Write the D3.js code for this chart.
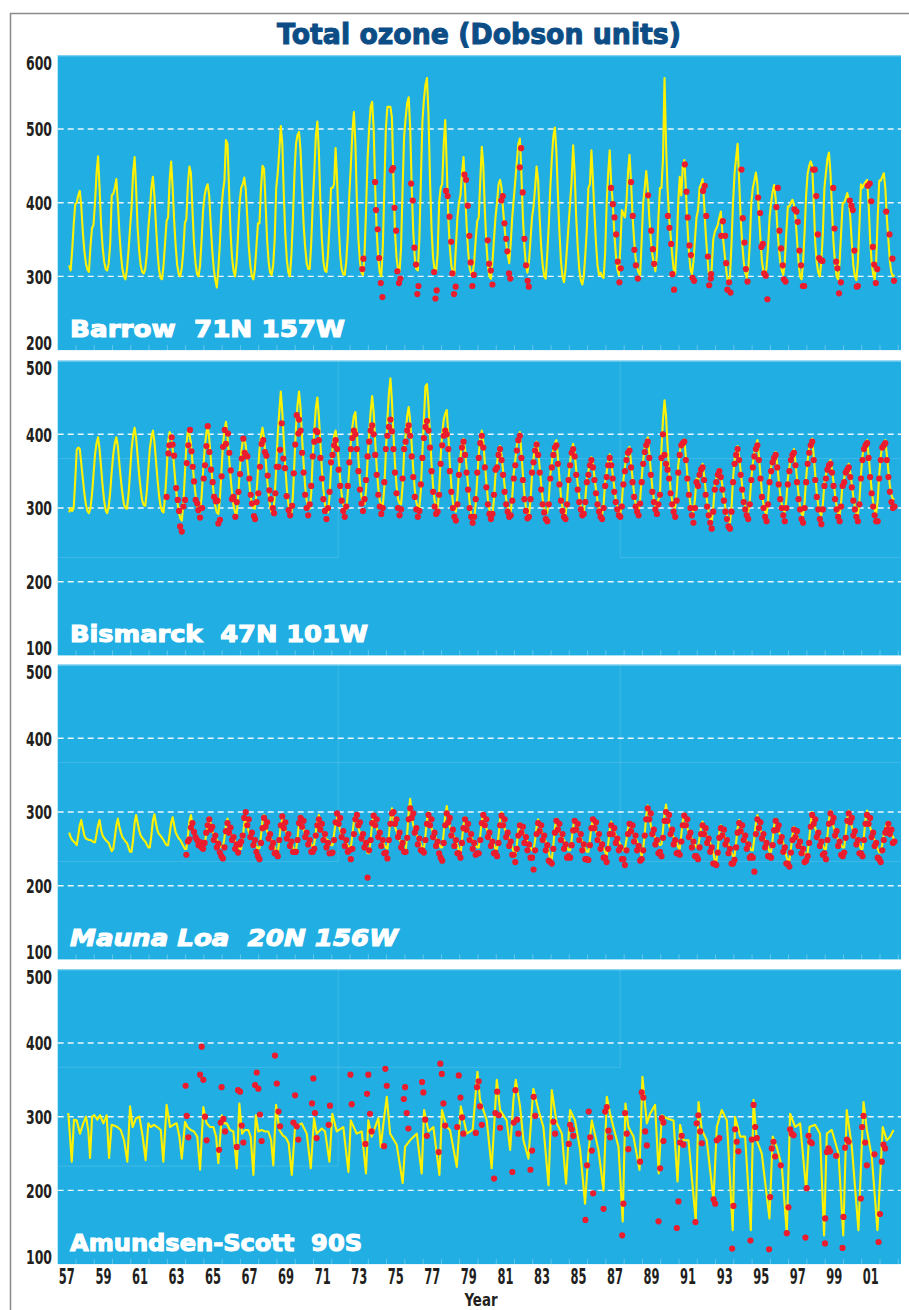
<!DOCTYPE html>
<html>
<head>
<meta charset="utf-8">
<script src="https://cdn.jsdelivr.net/npm/d3@7"></script>
<style>
  body { margin: 0; background: #fff; }
  svg { display: block; }
</style>
</head>
<body>
<script>
// ---- data ----
// x-axis labels
const labelYears = [1957,1959,1961,1963,1965,1967,1969,1971,1973,1975,1977,1979,1981,1983,1985,1987,1989,1991,1993,1995,1997,1999,2001];
const yearLabels = ['57','59','61','63','65','67','69','71','73','75','77','79','81','83','85','87','89','91','93','95','97','99','01'];

const ticksBarrow = [600, 500, 400, 300, 200];
const ticksOther = [500, 400, 300, 200, 100];

// Barrow, monthly means from Jan 1957
const barrowLine = [
  null,null,null,null,null,null,null,315,308,335,370,398,
  400,410,416,395,360,335,318,309,306,340,365,370,
  400,440,463,420,370,340,320,310,308,318,345,410,
  412,420,432,400,360,330,310,300,296,310,335,365,
  393,440,462,420,365,335,315,306,304,310,330,365,
  390,420,435,410,370,335,310,298,296,315,345,375,
  380,430,456,420,375,340,315,303,300,312,335,372,
  378,425,449,440,390,345,318,303,300,315,350,390,
  410,420,425,410,370,335,310,295,285,310,345,390,
  415,430,485,480,420,360,325,307,300,320,360,400,
  420,425,434,418,380,340,315,300,296,310,340,372,
  372,420,450,446,400,350,320,305,302,315,350,420,
  440,470,504,480,410,355,322,305,300,330,380,440,
  480,492,496,470,420,370,340,318,310,310,345,400,
  440,490,510,470,400,350,320,308,306,330,370,420,
  420,425,474,430,370,330,310,303,302,320,355,410,
  450,495,523,480,400,350,320,305,302,330,390,460,
  500,530,537,500,420,360,325,305,300,340,420,500,
  530,530,530,515,430,360,325,310,306,340,420,490,
  515,535,543,500,420,360,325,310,308,350,430,510,
  540,560,569,520,430,365,325,310,306,330,400,420,
  425,480,512,450,380,340,315,305,302,340,380,400,
  410,440,462,420,370,335,312,304,302,320,350,375,
  380,430,476,450,390,345,315,300,297,320,350,380,
  400,425,431,420,390,365,345,330,318,345,380,405,
  430,455,480,487,440,380,340,315,305,320,350,380,
  395,420,449,430,380,340,315,300,297,330,370,420,
  460,490,502,470,410,360,320,300,292,310,340,370,
  400,430,478,440,380,340,310,295,289,300,330,365,
  420,425,471,430,385,345,315,302,305,300,298,330,
  400,440,471,425,400,360,330,310,302,340,390,385,
  380,400,440,465,430,382,350,325,312,305,302,349,
  400,420,443,420,380,350,330,318,307,330,380,420,
  420,460,569,480,419,380,356,330,310,303,340,400,
  435,410,450,458,420,370,335,310,303,320,350,380,
  390,420,425,432,400,360,330,305,295,310,350,360,
  365,370,380,388,360,340,320,300,290,300,345,400,
  440,460,480,430,380,345,320,305,298,310,345,400,
  420,430,441,425,385,350,320,306,300,312,340,380,
  400,415,424,405,370,340,320,308,302,320,360,395,
  395,400,404,398,380,350,320,300,296,320,360,410,
  440,450,456,450,400,345,318,305,300,320,360,420,
  440,460,468,440,390,345,318,300,296,320,360,400,
  400,406,413,405,380,345,315,300,295,320,370,425,
  420,425,428,431,400,350,320,303,296,320,380,430,
  430,435,440,420,380,350,320,305,300,302
];

const barrowDots = [
  [1973.73,324],[1973.67,310],[1974.37,428],[1974.42,390],[1974.51,364],[1974.59,325],[1974.68,291],[1974.77,272],
  [1975.28,444],[1975.35,447],[1975.43,393],[1975.52,362],[1975.59,307],[1975.68,291],[1975.75,297],
  [1976.34,426],[1976.43,403],[1976.52,339],[1976.61,316],[1976.74,287],[1976.68,276],
  [1977.60,306],[1977.74,281],[1977.67,270],
  [1978.25,416],[1978.34,409],[1978.44,381],[1978.53,347],[1978.60,304],[1978.78,286],[1978.69,276],
  [1979.26,438],[1979.35,431],[1979.44,396],[1979.53,355],[1979.60,319],[1979.77,302],[1979.69,287],
  [1980.53,349],[1980.61,317],[1980.70,308],[1980.79,289],
  [1981.28,403],[1981.36,409],[1981.45,372],[1981.54,351],[1981.61,334],[1981.70,304],[1981.77,297],
  [1982.29,448],[1982.36,474],[1982.45,414],[1982.54,351],[1982.63,315],[1982.72,294],[1982.78,286],
  [1987.28,420],[1987.38,398],[1987.47,380],[1987.56,357],[1987.65,320],[1987.81,311],[1987.74,292],
  [1988.38,428],[1988.47,382],[1988.56,336],[1988.64,315],[1988.75,297],
  [1989.31,410],[1989.48,362],[1989.57,337],[1989.64,317],
  [1990.39,382],[1990.48,366],[1990.57,344],[1990.64,303],[1990.73,282],
  [1991.32,452],[1991.41,415],[1991.48,380],[1991.57,342],[1991.65,329],[1991.74,298],[1991.83,294],
  [1992.32,416],[1992.41,423],[1992.49,382],[1992.58,327],[1992.76,303],[1992.74,297],[1992.65,288],
  [1993.31,355],[1993.53,355],[1993.40,375],[1993.58,318],[1993.74,292],[1993.65,282],[1993.82,278],
  [1994.42,445],[1994.49,379],[1994.58,346],[1994.66,310],[1994.75,293],
  [1995.33,407],[1995.44,386],[1995.51,340],[1995.59,344],[1995.66,304],[1995.75,301],[1995.84,269],
  [1996.41,420],[1996.33,394],[1996.50,362],[1996.59,338],[1996.68,315],[1996.74,296],[1996.83,293],
  [1997.32,391],[1997.43,388],[1997.50,374],[1997.59,335],[1997.68,315],[1997.78,287],[1997.85,287],
  [1998.34,445],[1998.43,445],[1998.51,409],[1998.60,357],[1998.67,325],[1998.76,322],[1998.85,321],
  [1999.44,420],[1999.51,365],[1999.60,320],[1999.67,311],[1999.76,277],[1999.86,292],
  [2000.35,403],[2000.44,396],[2000.51,390],[2000.60,335],[2000.79,287],[2000.73,286],
  [2001.33,423],[2001.44,426],[2001.52,402],[2001.61,340],[2001.68,316],[2001.85,310],[2001.77,291],
  [2002.34,388],[2002.52,357],[2002.68,324],[2002.77,294]
];

// Bismarck, monthly means from Jan 1957
const bismarckLine = [
  null,null,null,null,null,null,null,294,300,296,300,337,
  379,382,380,360,340,320,305,296,293,300,318,345,
  372,388,396,380,355,330,310,297,293,302,322,350,
  373,388,396,384,360,338,320,305,300,299,318,348,
  380,398,409,395,370,345,325,310,304,303,322,352,
  380,396,405,390,365,340,318,303,296,294,315,348,
  390,403,398,380,355,330,310,295,286,283,305,345,
  385,405,400,388,362,338,318,302,295,294,315,350,
  380,400,412,395,368,340,318,302,294,292,312,348,
  385,405,417,398,370,342,320,303,294,292,315,350,
  375,390,396,385,362,340,320,306,300,299,318,350,
  378,398,409,395,368,340,318,302,294,292,315,355,
  400,430,458,430,390,355,325,305,295,292,318,365,
  410,440,458,435,395,360,330,310,301,299,320,370,
  405,435,450,425,388,352,325,305,296,294,315,355,
  380,398,405,392,365,340,318,305,300,298,320,355,
  390,410,425,430,400,365,335,315,307,305,325,365,
  400,430,452,430,390,355,328,310,304,303,328,375,
  420,455,476,445,400,360,330,312,306,305,330,375,
  400,425,437,418,385,352,325,308,301,300,325,375,
  420,465,468,440,400,360,330,310,302,300,322,370,
  400,420,428,433,400,360,330,308,298,295,315,350,
  370,388,394,380,355,330,308,292,286,285,305,340,
  372,395,405,390,362,335,312,298,291,290,312,345,
  360,378,384,372,350,330,312,300,296,295,315,348,
  365,385,395,403,375,345,318,300,292,290,310,345,
  368,385,390,378,355,332,312,300,294,293,312,345,
  362,380,388,392,368,340,315,300,292,290,310,342,
  362,380,387,375,352,332,315,302,296,295,312,340,
  350,362,369,360,342,325,310,298,292,290,305,335,
  348,365,373,362,345,328,312,300,294,292,308,338,
  355,372,380,383,362,340,320,306,299,297,312,340,
  365,382,390,396,375,350,328,312,303,300,312,315,
  380,420,446,425,385,350,325,310,302,300,320,358,
  375,388,390,393,370,345,322,305,297,295,312,340,
  335,350,355,360,345,325,308,295,285,280,300,330,
  340,350,353,345,330,315,300,290,283,280,300,340,
  365,378,384,370,350,330,312,302,296,295,310,340,
  360,375,385,392,370,345,320,305,295,292,310,340,
  355,368,372,376,360,338,318,305,297,295,310,340,
  355,370,375,380,362,340,318,302,292,290,308,340,
  365,382,390,394,370,345,320,303,293,290,305,335,
  345,358,362,365,352,335,318,302,293,290,308,335,
  340,352,356,360,348,332,315,302,293,290,310,345,
  370,385,388,392,372,348,325,308,297,293,310,345,
  370,385,388,392,372,350,330,318,312,312
];

const bismarckDotsEarly = [
  [1962.96,315],[1963.06,374],[1963.11,385],[1963.24,396],[1963.29,386],[1963.37,371],[1963.48,327],[1963.57,311],
  [1963.64,296],[1963.70,275],[1963.79,268],[1963.88,302],[1963.97,311],[1964.06,361],[1964.15,385],[1964.24,406],
  [1964.32,377],[1964.39,356],[1964.46,336],[1964.55,311],[1964.64,306],[1964.70,297],[1964.79,287],[1964.90,300],
  [1964.99,340],[1965.06,358],[1965.14,384],[1965.21,411],[1965.30,376],[1965.39,352],[1965.48,335],[1965.56,315],
  [1965.66,309],[1965.74,310],[1965.79,279],[1965.88,284],[1965.97,343],[1966.05,383],[1966.14,406],[1966.21,387],
  [1966.32,401],[1966.39,375],[1966.47,351],[1966.54,312],[1966.61,315],[1966.72,288],[1966.80,308],[1966.89,322],
  [1966.98,346],[1967.07,367],[1967.16,394],[1967.23,375],[1967.31,371],[1967.38,370],[1967.49,340],[1967.56,318],
  [1967.63,306],[1967.74,289],[1967.80,285],[1967.89,308],[1967.98,320],[1968.07,356],[1968.16,387],[1968.25,392],
  [1968.34,376],[1968.42,371],[1968.49,344],[1968.58,324],[1968.66,312],[1968.77,300],[1968.84,293],[1968.91,320],
  [1968.99,356],[1969.08,356],[1969.17,379],[1969.26,415],[1969.35,367],[1969.44,354],[1969.53,316],[1969.64,297],
  [1969.72,290],[1969.83,303],[1969.92,347],[1970.00,386],[1970.08,426],[1970.17,401]
];

// Bismarck second series, monthly from Jan 1970
const bismarckDots = [
  null,null,420,405,375,348,318,300,290,305,330,370,
  390,405,403,392,368,340,312,296,285,300,322,362,
  372,385,392,380,352,330,310,296,288,302,330,362,
  380,395,405,400,380,350,325,306,296,312,338,370,
  390,405,412,400,372,345,318,302,292,300,335,380,
  398,410,420,404,380,348,320,300,290,298,340,380,
  390,405,412,398,370,342,315,298,288,296,332,368,
  395,410,418,405,382,350,322,302,292,295,318,360,
  385,398,405,400,380,350,322,300,288,283,305,345,
  365,382,390,372,348,325,300,288,280,288,312,348,
  368,388,398,382,355,328,305,292,285,292,318,352,
  355,372,380,365,345,322,305,295,288,290,310,340,
  358,378,392,398,368,338,312,296,286,288,312,348,
  362,378,386,372,348,325,305,294,285,282,305,340,
  355,372,382,385,360,332,310,296,288,285,305,338,
  358,375,380,370,345,325,308,298,290,292,308,335,
  345,358,365,355,338,320,305,295,288,285,300,330,
  342,358,368,358,340,322,308,298,290,288,302,332,
  350,365,375,378,355,335,315,302,295,290,306,335,
  360,376,385,390,368,345,322,308,298,292,305,318,
  368,400,372,360,352,340,320,305,295,288,310,348,
  372,385,388,390,365,340,318,300,290,280,300,335,
  330,345,352,355,338,318,302,290,280,272,295,325,
  335,345,350,342,325,310,295,285,275,272,295,335,
  360,372,380,365,345,325,308,298,290,285,305,338,
  355,370,380,385,365,340,315,300,288,282,305,335,
  350,362,368,372,355,332,312,300,290,282,300,332,
  350,365,372,375,358,335,312,298,285,280,300,335,
  360,375,385,390,365,338,315,298,285,278,298,330,
  340,352,358,360,348,330,312,298,288,282,302,330,
  335,348,352,355,342,328,310,298,288,282,305,340,
  365,380,385,388,368,342,320,302,290,282,282,340,
  365,382,385,388,365,342,322,308,300,302
];

// Mauna Loa, monthly means from Jan 1957
const maunaLine = [
  null,null,null,null,null,null,null,272,266,262,260,258,
  255,268,282,289,278,268,264,263,262,262,261,259,
  259,270,282,289,276,268,265,262,260,258,252,247,
  250,265,282,291,280,272,266,263,260,258,252,246,
  246,262,285,296,285,275,268,265,262,260,256,252,
  252,268,288,297,285,275,270,268,265,262,258,255,
  255,270,285,293,282,272,268,264,262,258,254,250,
  250,268,288,296,282,272,268,265,262,260,258,255,
  256,270,285,293,284,274,270,266,262,260,255,252,
  252,265,282,291,280,272,268,264,260,258,254,250,
  250,264,284,292,282,273,268,264,262,258,253,250,
  251,268,288,296,284,274,268,265,262,258,252,246,
  243,262,282,291,282,275,270,266,262,258,252,248,
  248,265,285,295,284,276,270,266,262,260,256,252,
  257,272,288,296,285,275,270,266,263,262,258,255,
  255,270,285,293,284,275,270,266,262,258,255,252,
  252,268,288,298,288,278,272,268,264,260,252,244,
  244,262,285,298,286,278,272,268,264,260,255,252,
  250,268,290,305,290,280,274,268,262,258,252,246,
  246,270,300,318,295,282,275,270,265,262,256,250,
  250,268,290,300,288,278,272,268,264,260,256,252,
  252,272,295,308,292,280,274,270,266,262,255,248,
  241,262,283,293,284,276,270,266,262,258,255,252,
  252,268,288,298,288,278,272,268,264,260,255,250,
  250,268,290,300,288,278,272,268,264,258,252,246,
  239,255,275,285,280,274,268,264,260,256,252,248,
  248,262,280,290,284,276,270,265,260,255,245,236,
  236,255,278,291,282,274,268,265,262,258,252,248,
  248,262,280,290,285,276,270,265,260,255,250,246,
  246,262,280,291,282,274,268,264,260,256,250,246,
  240,256,275,287,280,274,268,264,260,256,250,248,
  250,262,278,286,280,274,268,264,260,256,248,240,
  250,270,295,309,295,282,274,270,265,262,258,255,
  256,275,298,310,295,282,275,270,266,262,258,252,
  250,268,288,298,288,278,272,268,264,260,256,252,
  252,265,280,287,280,272,266,262,258,254,245,234,
  232,250,272,282,276,270,264,260,256,250,245,240,
  240,258,278,289,282,274,268,264,260,256,252,248,
  248,265,285,296,286,276,270,266,262,258,252,246,
  246,262,282,291,282,274,268,264,258,250,240,234,
  234,250,268,280,275,268,262,258,254,250,244,240,
  245,262,285,300,288,278,272,266,262,258,254,250,
  250,268,290,302,290,280,272,268,263,260,255,252,
  252,270,292,302,290,280,273,268,264,260,255,250,
  250,268,290,302,290,280,272,266,262,256,250,245,
  245,256,270,278,285,287,280,272,266,262
];

// Mauna Loa second series, monthly from Jan 1964
const maunaDots = [
  242,260,263,279,285,273,266,262,255,259,252,250,
  258,272,282,290,276,280,262,268,252,257,245,240,
  237,252,274,285,272,279,262,266,250,256,245,256,
  260,268,292,300,282,290,266,272,255,262,246,240,
  236,258,278,292,280,286,264,270,252,258,244,245,
  240,262,282,294,278,286,264,270,254,260,246,246,
  246,262,285,292,280,288,266,272,256,262,246,246,
  250,268,282,290,276,284,262,270,252,258,244,244,
  245,262,286,298,284,292,266,274,254,262,246,248,
  236,250,270,290,296,282,286,264,270,252,258,211,
  248,262,285,295,282,290,266,272,254,262,244,245,
  237,262,284,298,300,284,290,266,272,252,258,246,
  246,265,290,305,292,298,272,278,256,264,248,248,
  245,262,284,296,282,290,266,272,254,260,244,238,
  234,258,282,298,286,292,268,276,254,262,244,244,
  238,258,278,290,276,284,262,270,250,258,242,244,
  244,262,285,296,282,290,266,272,254,260,244,245,
  240,258,282,295,282,290,266,272,254,260,242,242,
  232,250,268,282,272,280,258,266,248,256,238,238,
  222,248,270,285,274,282,262,268,248,255,234,232,
  230,250,272,288,276,284,262,270,250,256,238,240,
  238,255,275,288,276,284,262,270,248,256,236,236,
  235,255,278,290,278,286,262,270,250,256,238,238,
  232,250,270,282,270,278,258,264,248,252,236,236,
  228,248,270,284,274,282,260,268,248,254,234,236,
  248,268,290,305,290,298,270,276,256,262,244,246,
  240,265,288,300,288,296,270,276,256,262,244,245,
  242,260,282,295,282,290,266,272,252,260,240,240,
  236,252,270,282,270,278,258,264,246,252,230,230,
  228,245,265,278,268,276,256,262,244,250,230,230,
  235,252,272,285,274,282,262,268,250,256,238,240,
  238,219,270,290,278,286,264,270,252,258,240,240,
  238,255,275,288,276,282,260,266,246,252,230,230,
  226,245,262,276,266,274,254,260,244,250,232,234,
  240,258,280,296,284,290,266,272,254,260,242,244,
  236,262,284,298,286,292,268,274,254,260,242,240,
  245,265,288,298,286,292,268,274,256,262,244,244,
  240,262,284,296,284,292,266,272,254,258,238,236,
  232,248,262,272,276,284,270,276,258,260
];

// Amundsen-Scott, irregular readings [year, DU]
const amundsenLine = [
  [1957.58,305],[1957.77,239],[1957.89,296],[1958.04,295],[1958.22,277],[1958.40,291],[1958.55,300],[1958.68,280],
  [1958.77,244],[1958.88,300],[1959.00,302],[1959.17,296],[1959.32,302],[1959.50,291],[1959.68,302],[1959.81,244],
  [1959.95,289],[1960.08,288],[1960.26,286],[1960.45,282],[1960.63,268],[1960.81,239],[1960.96,314],[1961.10,286],
  [1961.29,298],[1961.47,300],[1961.65,273],[1961.81,241],[1961.96,291],[1962.09,286],[1962.27,289],[1962.45,286],
  [1962.64,282],[1962.78,239],[1962.96,316],[1963.15,286],[1963.33,289],[1963.51,291],[1963.66,273],[1963.79,243],
  [1963.97,293],[1964.10,286],[1964.28,282],[1964.46,280],[1964.64,273],[1964.79,228],[1964.97,313],[1965.15,291],
  [1965.34,286],[1965.52,286],[1965.67,273],[1965.79,237],[1965.98,302],[1966.10,291],[1966.25,291],[1966.43,282],
  [1966.61,280],[1966.80,230],[1966.94,318],[1967.09,277],[1967.25,282],[1967.43,282],[1967.56,273],[1967.71,221],
  [1967.84,302],[1967.98,280],[1968.16,282],[1968.35,280],[1968.53,280],[1968.68,268],[1968.80,234],[1968.95,316],
  [1969.13,282],[1969.31,275],[1969.50,271],[1969.64,264],[1969.81,221],[1969.99,286],[1970.35,291],[1970.63,277],
  [1970.85,230],[1971.03,298],[1971.17,277],[1971.45,284],[1971.63,280],[1971.87,239],[1972.03,304],[1972.27,280],
  [1972.63,286],[1972.91,225],[1973.04,295],[1973.36,277],[1973.64,280],[1973.87,223],[1974.00,295],[1974.18,273],
  [1974.55,298],[1974.68,259],[1974.86,298],[1975.01,327],[1975.19,277],[1975.55,262],[1975.88,210],[1976.01,259],
  [1976.28,268],[1976.65,277],[1976.92,223],[1977.05,309],[1977.29,280],[1977.56,286],[1977.89,221],[1978.03,309],
  [1978.29,286],[1978.47,282],[1978.84,232],[1979.06,314],[1979.39,277],[1979.71,282],[1979.97,361],[1980.11,323],
  [1980.48,295],[1980.75,230],[1981.03,350],[1981.21,309],[1981.57,295],[1981.76,255],[1981.94,323],[1982.07,350],
  [1982.30,314],[1982.49,268],[1982.76,243],[1983.03,338],[1983.31,309],[1983.58,286],[1983.86,207],[1984.04,336],
  [1984.31,291],[1984.59,277],[1984.82,209],[1985.04,309],[1985.31,295],[1985.59,255],[1985.86,182],[1986.04,250],
  [1986.23,295],[1986.59,255],[1986.87,200],[1987.05,327],[1987.23,304],[1987.41,286],[1987.69,259],[1987.92,158],
  [1988.07,318],[1988.23,286],[1988.51,273],[1988.84,228],[1989.00,354],[1989.24,291],[1989.42,304],[1989.69,316],
  [1989.89,223],[1990.06,302],[1990.33,298],[1990.70,295],[1990.92,212],[1991.06,289],[1991.24,268],[1991.52,268],
  [1991.92,158],[1992.07,320],[1992.25,282],[1992.52,268],[1992.89,187],[1993.07,286],[1993.34,309],[1993.62,295],
  [1993.94,146],[1994.07,300],[1994.35,273],[1994.62,273],[1994.93,146],[1995.08,323],[1995.26,268],[1995.53,250],
  [1995.95,162],[1996.13,273],[1996.35,259],[1996.63,232],[1996.90,142],[1997.08,304],[1997.36,286],[1997.63,291],
  [1997.96,200],[1998.14,286],[1998.45,289],[1998.72,277],[1998.94,139],[1999.09,277],[1999.36,282],[1999.73,250],
  [1999.99,139],[2000.18,309],[2000.46,259],[2000.82,146],[2001.10,320],[2001.28,282],[2001.55,246],[2001.86,146],
  [2002.15,286],[2002.37,268],[2002.56,273],[2002.74,282]
];

const amundsenDots = [
  [1964.00,342],[1964.06,301],[1964.15,272],[1964.79,357],[1964.88,395],[1964.97,350],[1965.06,300],[1965.15,268],
  [1965.83,255],[1965.92,292],[1965.97,340],[1966.07,297],[1966.16,280],[1966.80,259],[1966.87,336],[1966.98,334],
  [1967.07,288],[1967.16,265],[1967.80,343],[1967.89,360],[1967.98,338],[1968.07,303],[1968.16,267],[1968.89,383],
  [1968.99,345],[1969.08,307],[1969.17,287],[1969.90,292],[1969.99,329],[1970.08,287],[1970.17,269],
  [1970.92,318],[1970.99,352],[1971.08,305],[1971.17,271],[1971.83,289],[1971.90,315],[1973.02,357],[1973.09,317],
  [1973.84,263],[1973.93,331],[1974.00,357],[1974.09,304],[1974.18,280],[1974.86,260],[1974.93,365],[1975.01,342],
  [1975.94,324],[1976.01,340],[1976.10,305],[1976.19,284],[1976.94,347],[1977.01,333],[1977.11,296],[1977.20,274],
  [1977.85,252],[1977.94,372],[1978.02,358],[1978.11,318],[1978.20,288],[1978.86,286],[1978.95,356],[1979.04,326],
  [1979.13,299],[1979.20,277],[1979.88,278],[1979.95,340],[1980.04,348],[1980.11,314],[1980.21,289],[1980.88,216],
  [1980.95,305],[1981.05,334],[1981.14,302],[1981.21,285],[1981.88,225],[1981.96,292],[1982.05,336],[1982.14,296],
  [1982.21,277],[1982.87,228],[1982.96,254],[1983.05,327],[1983.13,301],[1984.13,293],[1984.22,277],[1984.97,263],
  [1985.04,289],[1985.13,283],[1985.22,274],[1985.88,160],[1985.97,234],[1986.06,307],[1986.14,272],[1986.23,254],
  [1986.30,196],[1986.87,175],[1986.96,307],[1987.05,313],[1987.14,281],[1987.23,272],[1987.89,139],[1987.96,182],
  [1988.05,305],[1988.14,277],[1988.23,256],[1988.87,239],[1988.96,333],[1989.05,326],[1989.15,280],[1989.24,261],
  [1989.88,158],[1989.97,230],[1990.06,298],[1990.15,292],[1990.15,267],[1990.88,149],[1990.97,185],[1991.06,265],
  [1991.15,274],[1991.24,262],[1991.90,157],[1991.97,291],[1992.06,302],[1992.16,280],[1992.25,264],[1992.89,188],
  [1992.98,182],[1993.07,268],[1993.21,271],[1993.91,121],[1993.98,179],[1994.07,283],[1994.16,266],[1994.25,253],
  [1994.91,132],[1994.99,269],[1995.08,316],[1995.17,286],[1995.26,271],[1995.93,120],[1995.99,191],[1996.08,257],
  [1996.17,266],[1996.26,246],[1996.57,234],[1996.90,142],[1996.99,177],[1997.08,283],[1997.17,277],[1997.27,275],
  [1997.92,136],[1997.99,203],[1998.09,274],[1998.18,266],[1998.27,264],[1998.99,128],[1999.00,162],[1999.09,252],
  [1999.18,257],[1999.27,253],[1999.60,247],[1999.95,122],[2000.00,164],[2000.09,258],[2000.19,269],[2000.28,266],
  [2000.95,189],[2001.02,286],[2001.10,301],[2001.19,265],[2001.28,234],[2001.70,249],[2001.92,130],[2002.00,168],
  [2002.10,239],[2002.19,262],[2002.28,257]
];

// ---- helpers ----
function monthly(startYear, arr) {
  return arr.map((v, i) => ({ t: startYear + (i + 0.5) / 12, v: v })).filter(d => d.v != null);
}
function pairs(arr) {
  return arr.map(d => ({ t: d[0], v: d[1] }));
}

const stations = [
  { label: 'Barrow  71N 157W', line: monthly(1957, barrowLine), dots: pairs(barrowDots),
    domain: [200, 600], ticks: ticksBarrow, labelWidth: 275, italic: false, seams: null },
  { label: 'Bismarck  47N 101W', line: monthly(1957, bismarckLine),
    dots: pairs(bismarckDotsEarly).concat(monthly(1970, bismarckDots)),
    domain: [100, 500], ticks: ticksOther, labelWidth: 298, italic: false, seams: 'a' },
  { label: 'Mauna Loa  20N 156W', line: monthly(1957, maunaLine), dots: monthly(1964, maunaDots),
    domain: [100, 500], ticks: ticksOther, labelWidth: 328, italic: true, seams: 'a' },
  { label: 'Amundsen-Scott  90S', line: pairs(amundsenLine), dots: pairs(amundsenDots),
    domain: [100, 500], ticks: ticksOther, labelWidth: 292, italic: false, seams: 'b' }
];

// ---- layout ----
const W = 909, H = 1310;
const left = 57.7, right = 901;
const tops = [55.3, 360.6, 664.6, 969.3];
const ph = 294.8;
const panelColor = '#21aee3';
const seamYears = [1972.35, 1987.78];
const seamValues = [367, 233];
const axisFont = '"DejaVu Sans Condensed", "DejaVu Sans", sans-serif';

const x = d3.scaleLinear().domain([1957, 2003.15]).range([left, right]);

const svg = d3.select('body').append('svg')
  .attr('width', W).attr('height', H)
  .attr('viewBox', `0 0 ${W} ${H}`);

// outer frame (left & top rules)
svg.append('line').attr('x1', 10.5).attr('x2', 10.5).attr('y1', 13).attr('y2', H)
  .attr('stroke', '#8a8a8a').attr('stroke-width', 1.5);
svg.append('line').attr('x1', 10).attr('x2', W).attr('y1', 13.5).attr('y2', 13.5)
  .attr('stroke', '#8a8a8a').attr('stroke-width', 1.5);

svg.append('text')
  .attr('x', 479).attr('y', 44)
  .attr('text-anchor', 'middle')
  .attr('font-family', '"DejaVu Sans", sans-serif')
  .attr('font-weight', 'bold')
  .attr('font-size', 29)
  .attr('fill', '#0c4d86')
  .attr('stroke', '#0c4d86').attr('stroke-width', 1.1)
  .attr('textLength', 404).attr('lengthAdjust', 'spacingAndGlyphs')
  .text('Total ozone (Dobson units)');

stations.forEach((s, i) => {
  const top = tops[i], bottom = top + ph;
  const y = d3.scaleLinear().domain(s.domain).range([bottom, top]);
  const g = svg.append('g');

  g.append('rect')
    .attr('x', left).attr('y', top)
    .attr('width', right - left).attr('height', ph)
    .attr('fill', panelColor);
  g.append('line').attr('x1', left).attr('x2', right).attr('y1', top + 0.5).attr('y2', top + 0.5)
    .attr('stroke', '#8fd6f2').attr('stroke-width', 1);

  // faint seams in the scanned panels
  const seam = (x1, x2, y1, y2) => g.append('line')
    .attr('x1', x(x1)).attr('x2', x(x2)).attr('y1', y(y1)).attr('y2', y(y2))
    .attr('stroke', '#ffffff').attr('stroke-opacity', 0.14).attr('stroke-width', 1);
  if (s.seams === 'a') {
    seam(1957, 2003.15, seamValues[0], seamValues[0]);
    seam(1957, seamYears[0], seamValues[1], seamValues[1]);
    seam(seamYears[1], 2003.15, seamValues[1], seamValues[1]);
    seam(seamYears[0], seamYears[0], 500, seamValues[1]);
    seam(seamYears[1], seamYears[1], 500, seamValues[1]);
  } else if (s.seams === 'b') {
    seam(1957, seamYears[1], seamValues[0], seamValues[0]);
    seam(1957, seamYears[0], seamValues[1], seamValues[1]);
    seam(seamYears[0], seamYears[0], 500, seamValues[1]);
    seam(seamYears[1], seamYears[1], 500, seamValues[0]);
  }

  // year ticks along the bottom edge
  g.selectAll('.yt').data(d3.range(1958, 2004)).enter().append('line')
    .attr('x1', d => x(d)).attr('x2', d => x(d))
    .attr('y1', bottom - 5).attr('y2', bottom)
    .attr('stroke', '#ffffff').attr('stroke-opacity', 0.3);

  // dashed grid
  g.selectAll('.grid').data(s.ticks.slice(1, -1)).enter().append('line')
    .attr('x1', left).attr('x2', right)
    .attr('y1', d => y(d)).attr('y2', d => y(d))
    .attr('stroke', '#ffffff').attr('stroke-opacity', 0.9)
    .attr('stroke-width', 1.4).attr('stroke-dasharray', '6,4');

  // y labels
  g.selectAll('.yl').data(s.ticks).enter().append('text')
    .attr('x', 52).attr('y', d => y(d))
    .attr('dy', (d, j) => j === 0 ? 14.5 : (j === s.ticks.length - 1 ? 0 : 7.3))
    .attr('text-anchor', 'end')
    .attr('font-family', axisFont)
    .attr('font-weight', 'bold')
    .attr('font-size', 20)
    .attr('fill', '#231f20')
    .attr('textLength', 26).attr('lengthAdjust', 'spacingAndGlyphs')
    .text(d => d);

  const clipId = 'clip' + i;
  svg.append('clipPath').attr('id', clipId).append('rect')
    .attr('x', left).attr('y', top).attr('width', right - left).attr('height', ph);

  const plot = g.append('g').attr('clip-path', `url(#${clipId})`);

  plot.append('path')
    .datum(s.line)
    .attr('fill', 'none')
    .attr('stroke', '#fff200')
    .attr('stroke-width', 2.1)
    .attr('stroke-linejoin', 'round')
    .attr('d', d3.line().x(d => x(d.t)).y(d => y(d.v)));

  plot.selectAll('.dot').data(s.dots).enter().append('circle')
    .attr('cx', d => x(d.t)).attr('cy', d => y(d.v))
    .attr('r', 3.1)
    .attr('fill', '#ea1c2d');

  g.append('text')
    .attr('x', 70).attr('y', bottom - 13)
    .attr('font-family', '"DejaVu Sans", sans-serif')
    .attr('font-weight', 'bold')
    .attr('font-style', s.italic ? 'italic' : 'normal')
    .attr('font-size', 23)
    .attr('fill', '#ffffff')
    .attr('stroke', '#ffffff').attr('stroke-width', 1.1)
    .style('white-space', 'pre')
    .attr('textLength', s.labelWidth).attr('lengthAdjust', 'spacingAndGlyphs')
    .text(s.label);
});

// x-axis labels
svg.selectAll('.xl').data(labelYears).enter().append('text')
  .attr('x', d => x(d + 0.5)).attr('y', 1284)
  .attr('text-anchor', 'middle')
  .attr('font-family', axisFont)
  .attr('font-weight', 'bold')
  .attr('font-size', 21)
  .attr('fill', '#231f20')
  .attr('textLength', 16).attr('lengthAdjust', 'spacingAndGlyphs')
  .text((d, i) => yearLabels[i]);

svg.append('text')
  .attr('x', 481).attr('y', 1306)
  .attr('text-anchor', 'middle')
  .attr('font-family', axisFont)
  .attr('font-weight', 'bold')
  .attr('font-size', 17)
  .attr('fill', '#231f20')
  .attr('textLength', 33).attr('lengthAdjust', 'spacingAndGlyphs')
  .text('Year');
</script>
</body>
</html>
